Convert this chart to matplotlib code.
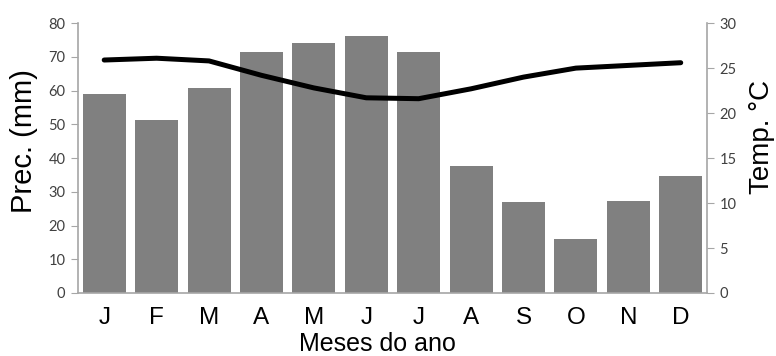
import matplotlib.pyplot as plt
import numpy as np

# dados
meses = ["J", "F", "M", "A", "M", "J", "J", "A", "S", "O", "N", "D"]
precipitacao = [59, 51.3, 60.7, 71.4, 74, 76.1, 71.4, 37.6, 27, 16, 27.3, 34.7]
temperatura = [25.9, 26.1, 25.8, 24.2, 22.8, 21.7, 21.6, 22.7, 24.0, 25.0, 25.3, 25.6]

cinza = "#a6a6a6"
tick_font = "Lato"
x = np.arange(len(meses))

fig = plt.figure(figsize=(7.76, 3.56), dpi=100)
ax = fig.add_axes([0.1005, 0.177, 0.8105, 0.758])
ax.bar(x, precipitacao, width=0.82, color="#808080", zorder=2)
ax.set_xlim(-0.5, 11.5)
ax.set_ylim(0, 80)
ax.set_yticks(range(0, 81, 10))
ax.set_xticks(x)
ax.set_xticklabels(meses, fontsize=17.5, family="Liberation Sans")
ax.tick_params(axis="x", length=0, pad=10)
ax.tick_params(axis="y", length=5, color=cinza, labelsize=10.5, labelcolor="#404040", pad=4)
for lab in ax.get_yticklabels():
    lab.set_family(tick_font)
for s in ["top", "right"]:
    ax.spines[s].set_visible(False)
for s in ["left", "bottom"]:
    ax.spines[s].set_color(cinza)
    ax.spines[s].set_linewidth(1.2)

ax2 = ax.twinx()
ax2.plot(x, temperatura, color="black", lw=3.6, solid_capstyle="round", solid_joinstyle="round", zorder=3)
ax2.set_ylim(0, 30)
ax2.set_yticks(range(0, 31, 5))
ax2.tick_params(axis="y", length=5, color=cinza, labelsize=10.5, labelcolor="#404040", pad=4)
for lab in ax2.get_yticklabels():
    lab.set_family(tick_font)
for s in ["top", "left", "bottom"]:
    ax2.spines[s].set_visible(False)
ax2.spines["right"].set_color(cinza)
ax2.spines["right"].set_linewidth(1.2)

fig.text(24 / 776, 1 - 141 / 356, "Prec. (mm)", rotation=90, fontsize=21,
         family="Liberation Sans", ha="center", va="center")
fig.text(762 / 776, 1 - 137 / 356, "Temp. °C", rotation=90, fontsize=20,
         family="Liberation Sans", ha="center", va="center")
fig.text(377 / 776, 1 - 351 / 356, "Meses do ano", fontsize=18,
         family="Liberation Sans", ha="center", va="baseline")

fig.savefig("out.png", dpi=100)
